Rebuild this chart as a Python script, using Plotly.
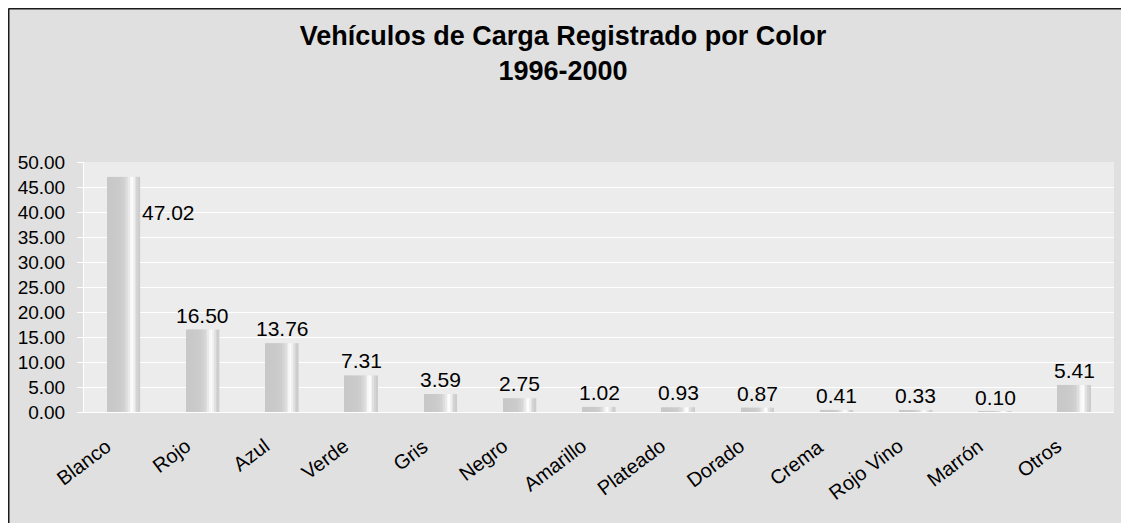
import plotly.graph_objects as go

categories = ["Blanco", "Rojo", "Azul", "Verde", "Gris", "Negro", "Amarillo",
              "Plateado", "Dorado", "Crema", "Rojo Vino", "Marrón", "Otros"]
values = [47.02, 16.50, 13.76, 7.31, 3.59, 2.75, 1.02, 0.93, 0.87, 0.41, 0.33, 0.10, 5.41]
title_text = "Vehículos de Carga Registrado por Color<br>1996-2000"

FONT = "Arial, Liberation Sans, sans-serif"
BAR_W = 0.415
# horizontal gradient of each bar (grey levels across bar width)
grad = [200, 200, 200, 201, 201, 202, 202, 203, 204, 206,
        209, 214, 222, 233, 246, 252, 240, 225, 212, 205]
n = len(grad)
sw = BAR_W / n

fig = go.Figure()
for i, g in enumerate(grad):
    fig.add_trace(go.Bar(
        x=categories, y=values,
        width=sw * 1.05, offset=-BAR_W / 2 + i * sw,
        marker=dict(color=f"rgb({g},{g},{g})", line=dict(width=0)),
        hoverinfo="skip", showlegend=False,
    ))

annotations = []
for c, v in zip(categories, values):
    if v > 45:
        annotations.append(dict(x=c, y=v, xref="x", yref="y", text=f"{v:.2f}",
                                showarrow=False, xanchor="left", yanchor="top",
                                xshift=16, yshift=-22,
                                font=dict(family=FONT, size=21, color="black")))
    else:
        annotations.append(dict(x=c, y=v, xref="x", yref="y", text=f"{v:.2f}",
                                showarrow=False, xanchor="center", yanchor="bottom",
                                yshift=1,
                                font=dict(family=FONT, size=21, color="black")))
    # category label (rotated) under the axis
    annotations.append(dict(x=c, y=0, xref="x", yref="y", text=c,
                            showarrow=False, xanchor="right", yanchor="top",
                            xshift=-6, yshift=-20, textangle=-37,
                            font=dict(family=FONT, size=20, color="black")))

# page body has an 8px margin; keep the figure inside the window
W, H = 1113, 515
L, R, T, B = 76, 7, 154, 111
pw, ph = W - L - R, H - T - B
# top and left edges of the chart frame
shapes = [
    dict(type="line", xref="paper", yref="paper",
         x0=(0.5 - L) / pw, x1=1 + R / pw, y0=1 + (T - 0.5) / ph, y1=1 + (T - 0.5) / ph,
         line=dict(color="#1a1a1a", width=2)),
    dict(type="line", xref="paper", yref="paper",
         x0=(0.5 - L) / pw, x1=(0.5 - L) / pw, y0=-B / ph, y1=1 + (T - 0.5) / ph,
         line=dict(color="#1a1a1a", width=2)),
]

fig.update_layout(
    width=W, height=H,
    margin=dict(l=L, r=R, t=T, b=B, autoexpand=False),
    paper_bgcolor="#e0e0e0", plot_bgcolor="#ececec",
    barmode="overlay",
    font=dict(family=FONT, color="black"),
    title=dict(text=title_text, x=(563 - 8) / W, xref="container", xanchor="center",
               y=1 - 37 / H, yref="container", yanchor="top",
               font=dict(family=FONT, size=27, color="black", weight="bold")),
    shapes=shapes, annotations=annotations,
    xaxis=dict(type="category", range=[-0.5, len(categories) - 0.5],
               showline=True, linecolor="white", linewidth=1,
               showgrid=False, ticks="", showticklabels=False),
    yaxis=dict(range=[0, 50], dtick=5, tickformat=".2f",
               showline=True, linecolor="white", linewidth=1,
               showgrid=True, gridcolor="white", gridwidth=1,
               ticks="outside", ticklen=6, tickcolor="white",
               tickfont=dict(family=FONT, size=19, color="black"),
               ticklabelstandoff=8, zeroline=False),
)

fig.write_html("out.html")
